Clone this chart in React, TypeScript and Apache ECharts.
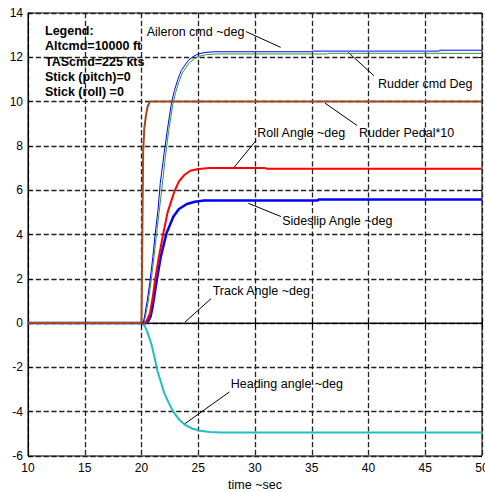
import React, { useEffect, useRef } from "react";
import * as echarts from "echarts";

// ---- data (time sec, value) ----
const xTicks = [10, 15, 20, 25, 30, 35, 40, 45, 50];
const yTicks = [-6, -4, -2, 0, 2, 4, 6, 8, 10, 12, 14];

const aileronCmd: number[][] = [
  [10, 0], [20.15, 0], [20.3, 0.4], [20.5, 1.0], [20.75, 1.9], [21.0, 3.0], [21.2, 4.0],
  [21.45, 5.1], [21.65, 6.3], [22.0, 7.7], [22.3, 8.8], [22.66, 10.0], [22.9, 10.5],
  [23.2, 11.0], [23.5, 11.4], [24.1, 11.85], [24.6, 12.05], [25.0, 12.15], [25.6, 12.22],
  [26.5, 12.25], [35.0, 12.25], [35.1, 12.28], [46.2, 12.28], [46.3, 12.32], [50, 12.32],
];
const rudderCmd: number[][] = [
  [10, 0], [20.2, 0], [20.35, 0.3], [20.6, 1.0], [20.85, 1.9], [21.1, 3.0], [21.3, 3.9],
  [21.55, 5.0], [21.8, 6.1], [22.1, 7.5], [22.4, 8.7], [22.77, 9.9], [23.0, 10.4],
  [23.3, 10.9], [23.6, 11.3], [24.2, 11.75], [24.7, 11.95], [25.1, 12.05], [25.7, 12.12],
  [26.6, 12.15], [36.3, 12.15], [36.4, 12.18], [50, 12.18],
];
const rudderPedal10: number[][] = [
  [10, 0], [20.0, 0], [20.05, 2.5], [20.1, 5.5], [20.15, 7.8], [20.25, 8.8], [20.4, 9.4],
  [20.55, 9.8], [20.75, 10.0], [50, 10.0],
];
const rollAngle: number[][] = [
  [10, 0], [20.3, 0], [20.5, 0.15], [20.75, 0.45], [21.0, 1.2], [21.2, 1.95], [21.5, 2.9],
  [21.9, 4.0], [22.3, 5.0], [22.9, 5.95], [23.3, 6.4], [23.8, 6.7], [24.3, 6.88],
  [25.0, 6.96], [26.0, 7.0], [30.9, 7.0], [31.0, 6.97], [50, 6.97],
];
const sideslipAngle: number[][] = [
  [10, 0], [20.4, 0], [20.6, 0.1], [20.8, 0.3], [21.0, 0.8], [21.35, 1.95], [21.7, 3.0],
  [22.2, 4.05], [22.8, 4.8], [23.3, 5.15], [24.0, 5.38], [24.7, 5.48], [25.5, 5.53],
  [35.5, 5.53], [35.6, 5.58], [50, 5.58],
];
const trackAngle: number[][] = [[10, 0], [20, 0], [50, 0]];
const headingAngle: number[][] = [
  [10, 0], [20.1, 0], [20.3, -0.15], [20.55, -0.45], [20.9, -1.0], [21.15, -1.55],
  [21.4, -2.15], [21.7, -2.65], [22.0, -3.15], [22.4, -3.6], [22.8, -4.0], [23.3, -4.35],
  [23.8, -4.58], [24.5, -4.77], [25.2, -4.86], [26.0, -4.92], [27.0, -4.94], [50, -4.94],
];

// annotation labels: [text, t, v] (left-middle anchor)
const annotationTexts: [string, number, number][] = [
  ["Aileron cmd ~deg", 20.46, 13.16],
  ["Rudder cmd Deg", 40.84, 10.81],
  ["Rudder Pedal*10", 39.16, 8.59],
  ["Roll Angle ~deg", 30.2, 8.59],
  ["Sideslip Angle ~deg", 32.4, 4.6],
  ["Track Angle ~deg", 26.27, 1.43],
  ["Heading angle ~deg", 27.86, -2.77],
];
// arrows: [tailT, tailV, tipT, tipV]
const arrows: number[][] = [
  [29.21, 13.16, 32.26, 12.45],
  [40.48, 11.17, 38.22, 12.22],
  [38.99, 8.92, 36.17, 9.93],
  [30.09, 8.24, 28.04, 6.96],
  [32.29, 4.81, 29.41, 5.41],
  [26.12, 1.1, 23.83, 0.045],
  [27.74, -3.11, 23.83, -4.54],
];
const legendLines = [
  "Legend:",
  "Altcmd=10000 ft",
  "TAScmd=225 kts",
  "Stick (pitch)=0",
  "Stick (roll) =0",
];

const FONT = "'Liberation Sans', Arial, sans-serif";

export default function App() {
  const ref = useRef<HTMLDivElement>(null);
  useEffect(() => {
    document.body.style.margin = "0";
    const chart = echarts.init(ref.current!, null, { renderer: "svg" });
    const line = (name: string, data: number[][], color: string, width: number, z: number) => ({
      name,
      type: "line",
      data,
      showSymbol: false,
      symbol: "none",
      z,
      lineStyle: { color, width },
      itemStyle: { color },
    });
    const tick = { show: true, inside: true, length: 4, lineStyle: { color: "#000" } };
    const split = { show: true, lineStyle: { color: "#222", width: 1.3, type: "dashed", dashOffset: 0 } };
    chart.setOption({
      animation: false,
      textStyle: { fontFamily: FONT },
      grid: {
        left: 28, right: 3, top: 13, bottom: 36,
        outerBoundsMode: "none",
        containLabel: false,
        show: true, borderColor: "#000", borderWidth: 1, backgroundColor: "transparent",
      },
      xAxis: [
        {
          type: "value",
          min: 10,
          max: 50,
          interval: 5,
          name: "time ~sec",
          nameLocation: "middle",
          nameGap: 22,
          nameTextStyle: { color: "#000", fontSize: 12.5, fontFamily: FONT },
          axisLine: { show: true, lineStyle: { color: "#000" } },
          axisTick: tick,
          axisLabel: { color: "#000", fontSize: 12, margin: 6, fontFamily: FONT },
          splitLine: split,
        },
        {
          type: "value",
          position: "top",
          min: 10,
          max: 50,
          interval: 5,
          axisLine: { show: false },
          axisTick: tick,
          axisLabel: { show: false },
          splitLine: { show: false },
        },
      ],
      yAxis: [
        {
          type: "value",
          min: -6,
          max: 14,
          interval: 2,
          axisLine: { show: true, lineStyle: { color: "#000" } },
          axisTick: tick,
          axisLabel: { color: "#000", fontSize: 12, margin: 5, fontFamily: FONT },
          splitLine: split,
        },
        {
          type: "value",
          position: "right",
          min: -6,
          max: 14,
          interval: 2,
          axisLine: { show: false },
          axisTick: tick,
          axisLabel: { show: false },
          splitLine: { show: false },
        },
      ],
      series: [
        {
          ...line("Track Angle", trackAngle, "#000000", 1, 2),
          markLine: {
            silent: true,
            animation: false,
            symbol: ["none", "arrow"],
            symbolSize: [0, 9],
            label: { show: false },
            lineStyle: { color: "#000", width: 1, type: "solid" },
            data: arrows.map((a) => [{ coord: [a[0], a[1]] }, { coord: [a[2], a[3]] }]),
          },
          markPoint: {
            silent: true,
            animation: false,
            symbol: "circle",
            symbolSize: 0,
            data: annotationTexts.map((a) => ({
              coord: [a[1], a[2]],
              label: {
                show: true,
                position: [0, 0],
                align: "left",
                verticalAlign: "middle",
                formatter: a[0],
                color: "#000",
                fontSize: 12.5,
                fontFamily: FONT,
              },
            })),
          },
        },
        line("Heading angle", headingAngle, "#20c0c0", 2, 3),
        line("Sideslip Angle", sideslipAngle, "#0000ff", 2.5, 4),
        line("Roll Angle", rollAngle, "#ff0000", 2, 5),
        line("Rudder cmd", rudderCmd, "#2f9a2f", 1, 6),
        line("Aileron cmd", aileronCmd, "#0000ff", 1, 7),
        line("Rudder Pedal*10", rudderPedal10, "#a34a1c", 2, 8),
      ],
      graphic: [
        {
          type: "text",
          left: 45,
          top: 23,
          style: {
            text: legendLines.join("\n"),
            fill: "#000",
            font: `bold 12.5px ${FONT}`,
            lineHeight: 15.4,
          },
        },
      ],
    });
    return () => chart.dispose();
  }, []);
  return <div ref={ref} style={{ width: 485, height: 492 }} />;
}
